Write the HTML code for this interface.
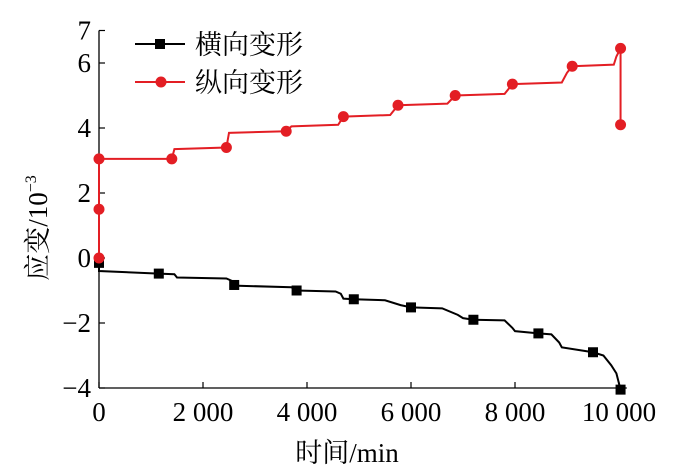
<!DOCTYPE html>
<html><head><meta charset="utf-8">
<style>
html,body{margin:0;padding:0;background:#fff;}
svg{display:block;font-family:"Liberation Serif","Noto Serif CJK SC",serif;}
</style></head>
<body>
<svg id="chart" width="678" height="473" viewBox="0 0 678 473"></svg>
<script>
const xTicks = [0, 2000, 4000, 6000, 8000, 10000];
const xTickLabels = ["0", "2 000", "4 000", "6 000", "8 000", "10 000"];
const yTicks = [-4, -2, 0, 2, 4, 6, 7];
const yTickLabels = ["\u22124", "\u22122", "0", "2", "4", "6", "7"];
const lateralT = [0,0,0,1150,1450,1500,2450,2550,2600,3700,3800,4550,4650,4700,4900,5500,5800,6000,6600,6900,7000,7200,7800,7950,8000,8450,8700,8850,8900,9500,9700,9850,9950,10030];
const lateralV = [-0.15,-0.4,-0.4,-0.48,-0.5,-0.6,-0.63,-0.7,-0.85,-0.9,-1.0,-1.03,-1.1,-1.25,-1.27,-1.3,-1.45,-1.52,-1.55,-1.75,-1.85,-1.9,-1.92,-2.15,-2.25,-2.32,-2.35,-2.6,-2.75,-2.9,-3.0,-3.3,-3.55,-4.05];
const lateralMarkT = [0,1150,2600,3800,4900,6000,7200,8450,9500,10030];
const lateralMarkV = [-0.15,-0.48,-0.83,-1.0,-1.27,-1.52,-1.9,-2.32,-2.9,-4.05];
const longT = [0,0,0,1400,1450,2450,2500,3600,3700,4600,4700,5600,5750,6700,6850,7800,7950,8900,9000,9100,9900,9950,10030,10030];
const longV = [0,1.5,3.05,3.05,3.35,3.4,3.85,3.9,4.05,4.1,4.35,4.4,4.7,4.75,5.0,5.05,5.35,5.4,5.7,5.9,5.95,6.2,6.45,4.1];
const longMarkT = [0,0,0,1400,2450,3600,4700,5750,6850,7950,9100,10030,10030];
const longMarkV = [0,1.5,3.05,3.05,3.4,3.9,4.35,4.7,5.0,5.35,5.9,6.45,4.1];

const svg = document.getElementById('chart');
const NS = 'http://www.w3.org/2000/svg';
const X0 = 99, XS = 104/2000, Y0 = 258, YS = 32.5;
const xs = t => X0 + t*XS;
const ys = v => Y0 - v*YS;
function mk(tag, attrs, parent){const e=document.createElementNS(NS,tag);for(const k in attrs)e.setAttribute(k,attrs[k]);(parent||svg).appendChild(e);return e;}

const axes = mk('g',{});


const ya = mk('line',{x1:X0,y1:ys(7),x2:X0,y2:ys(-4),stroke:'#000','stroke-width':1.3},axes);


const xa = mk('line',{x1:X0,y1:ys(-4),x2:xs(10150),y2:ys(-4),stroke:'#000','stroke-width':1.3},axes);


xTicks.forEach((t,i)=>{
  mk('line',{x1:xs(t),y1:ys(-4),x2:xs(t),y2:ys(-4)-6,stroke:'#000','stroke-width':1.2},axes);
  const tx = mk('text',{x:xs(t),y:421,'font-size':27,'text-anchor':'middle'},axes);
  tx.textContent = xTickLabels[i];
  
  
});
yTicks.forEach((v,i)=>{
  mk('line',{x1:X0,y1:ys(v),x2:X0+6,y2:ys(v),stroke:'#000','stroke-width':1.2},axes);
  const tx = mk('text',{x:91,y:ys(v)+9,'font-size':27,'text-anchor':'end'},axes);
  tx.textContent = yTickLabels[i];
  
  
});
const xt = mk('text',{x:xs(5000)-12,y:462,'font-size':27,'text-anchor':'middle'});
xt.textContent = '时间/min';


const yt = mk('text',{transform:'translate(47,228) rotate(-90)','font-size':27,'text-anchor':'middle'});
yt.innerHTML = '应变/10<tspan dy="-11" font-size="16">\u22123</tspan>';



function series(T,V,MT,MV,color,shape,name){
  const g = mk('g',{});
  
  
  const pts = T.map((t,i)=>xs(t)+','+ys(V[i])).join(' ');
  const pl = mk('polyline',{points:pts,fill:'none',stroke:color,'stroke-width':2},g);
  
  
  MT.forEach((t,i)=>{
    let m;
    if(shape==='sq') m = mk('rect',{x:xs(t)-5,y:ys(MV[i])-5,width:10,height:10,fill:color},g);
    else m = mk('circle',{cx:xs(t),cy:ys(MV[i]),r:5.5,fill:color},g);
    
    
  });
}
series(lateralT,lateralV,lateralMarkT,lateralMarkV,'#000','sq','lateral-deformation');
series(longT,longV,longMarkT,longMarkV,'#e31e24','ci','longitudinal-deformation');

const lg = mk('g',{});


const e1 = mk('g',{},lg);


mk('line',{x1:135,y1:44,x2:185,y2:44,stroke:'#000','stroke-width':2},e1);
mk('rect',{x:155,y:39,width:10,height:10,fill:'#000'},e1);
const l1 = mk('text',{x:195,y:54,'font-size':27},e1); l1.textContent='横向变形';
const e2 = mk('g',{},lg);


mk('line',{x1:135,y1:82,x2:185,y2:82,stroke:'#e31e24','stroke-width':2},e2);
mk('circle',{cx:161,cy:82,r:5.5,fill:'#e31e24'},e2);
const l2 = mk('text',{x:195,y:92,'font-size':27},e2); l2.textContent='纵向变形';
</script>
</body></html>
